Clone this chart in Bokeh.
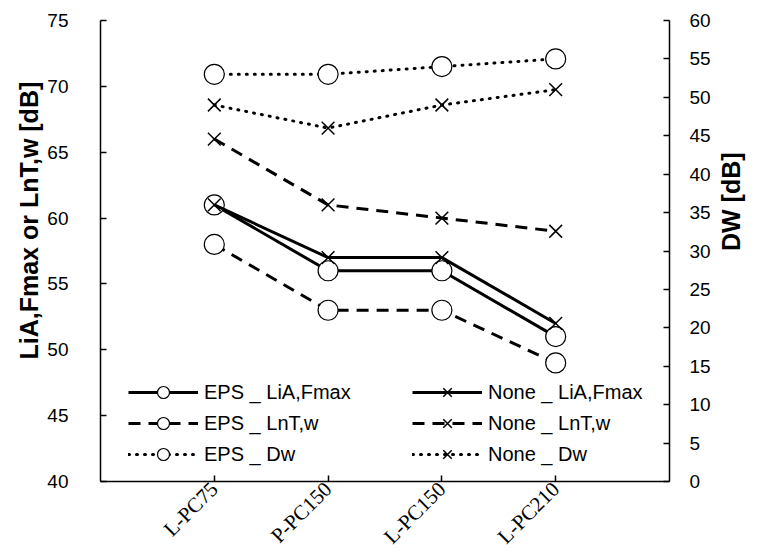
from math import pi
from bokeh.plotting import figure
from bokeh.models import Range1d, LinearAxis, FixedTicker, Legend, LegendItem, Title
from bokeh.embed import file_html
from bokeh.resources import INLINE

categories = ["L-PC75", "P-PC150", "L-PC150", "L-PC210"]
eps_lia = [61, 56, 56, 51]
none_lia = [61, 57, 57, 52]
eps_lnt = [58, 53, 53, 49]
none_lnt = [66, 61, 60, 59]
eps_dw = [53, 53, 54, 55]
none_dw = [49, 46, 49, 51]
left_ticks = [40, 45, 50, 55, 60, 65, 70, 75]
right_ticks = [0, 5, 10, 15, 20, 25, 30, 35, 40, 45, 50, 55, 60]

xs = list(range(1, len(categories) + 1))

p = figure(width=761, height=560, output_backend="svg", toolbar_location=None,
           x_range=Range1d(0, len(categories) + 1), y_range=Range1d(40, 75),
           min_border_left=100, min_border_right=89, min_border_top=20,
           min_border_bottom=79)
p.extra_y_ranges = {"dw": Range1d(0, 60)}
p.xgrid.visible = False
p.ygrid.visible = False
p.outline_line_color = None
p.background_fill_color = "white"

FONT = "Liberation Sans"
TICK_SIZE = "19px"
LEG_SIZE = "20px"

def style_axis(ax, standoff):
    ax.major_label_text_font = FONT
    ax.major_label_text_font_size = TICK_SIZE
    ax.major_label_text_color = "black"
    ax.major_label_standoff = standoff
    ax.minor_tick_line_color = None
    ax.major_tick_in = 6
    ax.major_tick_out = 0
    ax.axis_line_width = 1.5
    ax.major_tick_line_width = 1.5
    ax.axis_line_color = "black"
    ax.major_tick_line_color = "black"

# bottom axis
xa = p.xaxis[0]
style_axis(xa, 4)
xa.ticker = FixedTicker(ticks=xs)
xa.major_label_overrides = {x: c for x, c in zip(xs, categories)}
xa.major_label_orientation = pi / 4
xa.major_label_text_font = "Liberation Serif"
xa.major_label_text_font_size = "21px"

# left axis
ya = p.yaxis[0]
style_axis(ya, 32)
ya.ticker = FixedTicker(ticks=left_ticks)

# right axis
ra = LinearAxis(y_range_name="dw", ticker=FixedTicker(ticks=right_ticks))
style_axis(ra, 20)
p.add_layout(ra, "right")

# right axis title carried by a bare axis (no line, no ticks)
da = LinearAxis(y_range_name="dw", ticker=FixedTicker(ticks=[]),
                axis_label="DW [dB]", axis_label_standoff=17,
                axis_label_text_font=FONT, axis_label_text_font_style="bold",
                axis_label_text_font_size="25px", axis_label_text_color="black",
                axis_line_color=None, major_tick_line_color=None,
                minor_tick_line_color=None, major_label_text_font_size="0px",
                major_tick_in=0, major_tick_out=0, major_label_standoff=0)
if "axis_label_orientation" in da.properties():
    da.axis_label_orientation = pi / 2
p.add_layout(da, "right")

series = [
    ("EPS _ LiA,Fmax", eps_lia, "default", "solid", "circle"),
    ("None _ LiA,Fmax", none_lia, "default", "solid", "x"),
    ("EPS _ LnT,w", eps_lnt, "default", "dashed", "circle"),
    ("None _ LnT,w", none_lnt, "default", "dashed", "x"),
    ("EPS _ Dw", eps_dw, "dw", "dotted", "circle"),
    ("None _ Dw", none_dw, "dw", "dotted", "x"),
]

items = []
for name, vals, rng, style, marker in series:
    if style == "solid":
        dash, cap = "solid", "butt"
    elif style == "dashed":
        dash, cap = "12 8", "butt"
    else:
        dash, cap = "1 7", "round"
    lr = p.line(xs, vals, y_range_name=rng, line_color="black", line_width=3,
                line_dash=dash, line_cap=cap)
    if marker == "circle":
        mr = p.scatter(xs, vals, y_range_name=rng, marker="circle", size=20,
                       fill_color="white", line_color="black", line_width=1.2)
    else:
        mr = p.scatter(xs, vals, y_range_name=rng, marker="x", size=18,
                       line_color="black", line_width=1.5)
    items.append(LegendItem(label=name, renderers=[lr, mr]))

def make_legend(its, loc):
    return Legend(items=its, location=loc, orientation="vertical",
                  background_fill_alpha=0, border_line_color=None,
                  padding=0, margin=0, spacing=1,
                  glyph_width=70, glyph_height=30, label_height=30,
                  label_standoff=6, label_text_font=FONT,
                  label_text_font_size=LEG_SIZE, label_text_color="black")

p.add_layout(make_legend([items[0], items[2], items[4]], (28, 12)))
p.add_layout(make_legend([items[1], items[3], items[5]], (312, 12)))

# left axis title
p.add_layout(Title(text="LiA,Fmax or LnT,w [dB]", align="left", offset=122,
                   standoff=4, text_font=FONT, text_font_style="bold",
                   text_font_size="25px", text_color="black"), "left")

open("out.html", "w").write(file_html(p, INLINE))
